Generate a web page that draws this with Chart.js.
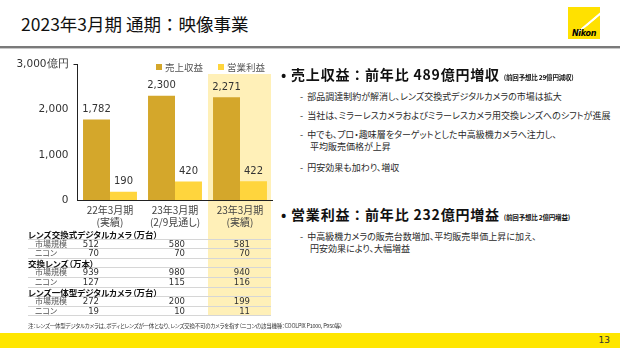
<!DOCTYPE html>
<html>
<head>
<meta charset="utf-8">
<script src="https://cdn.jsdelivr.net/npm/chart.js@4"></script>
<style>
  body { margin:0; width:620px; height:348px; background:#fff; position:relative; overflow:hidden;
         font-family:"Noto Sans CJK JP", sans-serif; font-feature-settings:"palt"; color:#222; }
  .abs { position:absolute; white-space:nowrap; }
  #title { left:21px; top:12px; font-size:17.5px; line-height:24px; color:#111; font-feature-settings:normal; }
  #rule { left:0; top:46px; width:620px; height:2px; background:#7a7a7a; }
  #rule2 { left:0; top:48px; width:620px; height:1px; background:#c8c8c8; }
  #logo { left:568px; top:7px; width:32px; height:32px; background:#ffe100; overflow:hidden; }
  #logo .streak { position:absolute; height:1px; background:rgba(255,255,255,0.85); width:40px; transform:rotate(-40deg); }
  #logo .name { position:absolute; left:0; right:0; bottom:1px; text-align:center; font-family:"DejaVu Sans"; font-weight:bold; font-style:italic; font-size:8px; color:#000; letter-spacing:-0.3px; }
  #band { left:208px; top:74px; width:63px; height:242px; background:#fff0b8; }
  #chartBox { left:0; top:50px; width:280px; height:190px; }
  .leg { font-size:9.5px; color:#555; top:60px; }
  .leg i { display:inline-block; width:6px; height:6px; margin-right:3px; vertical-align:1px; }
  .trow { position:absolute; left:28px; width:243px; height:9.6px; border-bottom:1px solid #d6d6d6; box-sizing:border-box; }
  .trow span { position:absolute; top:-2px; font-size:8px; line-height:12px; }
  .thead span { font-weight:bold; color:#111; font-size:8.5px; }
  .tsub span { color:#555; }
  .tsub span.num { font-family:"DejaVu Sans"; font-size:8.5px; color:#333; text-align:right; width:30px; }
  .h1 { font-size:14px; font-weight:bold; color:#111; font-feature-settings:normal; letter-spacing:0.8px; }
  .h1 small { font-size:6.5px; font-weight:bold; font-feature-settings:"palt"; letter-spacing:-0.2px; }
  .li { font-size:9px; color:#2a2a2a; }
  #foot { left:28px; top:322px; font-size:5.5px; letter-spacing:-0.25px; color:#333; }
  #bar { left:0; top:333px; width:620px; height:15px; background:#ffe600; }
  #page { right:10px; top:335px; font-size:9px; color:#333; font-family:"DejaVu Sans"; }
</style>
</head>
<body>
<div id="title" class="abs">2023年3月期 通期：映像事業</div>
<div id="rule" class="abs"></div>
<div id="rule2" class="abs"></div>
<div id="logo" class="abs"></div>

<div id="band" class="abs"></div>
<div id="chartBox" class="abs"><canvas id="chart" width="280" height="190"></canvas></div>
<div class="abs leg" style="left:156px"><i style="background:#d4a72b"></i>売上収益</div>
<div class="abs leg" style="left:218px"><i style="background:#ffd53d"></i>営業利益</div>
<div id="table"></div>

<div class="abs h1" style="left:281px; top:64px">• 売上収益：前年比 489億円増収 <small>(前回予想比 29億円減収)</small></div>
<div class="abs li" style="left:300px; top:90px">-&nbsp;&nbsp;部品調達制約が解消し、レンズ交換式デジタルカメラの市場は拡大</div>
<div class="abs li" style="left:300px; top:109px">-&nbsp;&nbsp;当社は、ミラーレスカメラおよびミラーレスカメラ用交換レンズへのシフトが進展</div>
<div class="abs li" style="left:300px; top:128px">-&nbsp;&nbsp;中でも、プロ・趣味層をターゲットとした中高級機カメラへ注力し、</div>
<div class="abs li" style="left:310px; top:140px">平均販売価格が上昇</div>
<div class="abs li" style="left:300px; top:161px">-&nbsp;&nbsp;円安効果も加わり、増収</div>

<div class="abs h1" style="left:281px; top:204px">• 営業利益：前年比 232億円増益 <small>(前回予想比 2億円増益)</small></div>
<div class="abs li" style="left:300px; top:230px">-&nbsp;&nbsp;中高級機カメラの販売台数増加、平均販売単価上昇に加え、</div>
<div class="abs li" style="left:310px; top:242px">円安効果により、大幅増益</div>

<div id="foot" class="abs">注：レンズ一体型デジタルカメラは、ボディとレンズが一体となり、レンズ交換不可のカメラを指す（ニコンの該当機種：COOLPIX P1000, P950等）</div>
<div id="bar" class="abs"></div>
<div id="page" class="abs">13</div>

<script>
var categories = [['22年3月期', '(実績)'], ['23年3月期', '(2/9見通し)'], ['23年3月期', '(実績)']];
var revenue = [1782, 2300, 2271];
var operatingProfit = [190, 420, 422];
var yTicks = [0, 1000, 2000, 3000];

var tableGroups = ['レンズ交換式デジタルカメラ（万台）', '交換レンズ（万本）', 'レンズ一体型デジタルカメラ（万台）'];
var rowLabels = ['市場規模', 'ニコン'];
var marketSize = [[512, 580, 581], [939, 980, 940], [272, 200, 199]];
var nikonUnits = [[70, 70, 70], [127, 115, 116], [19, 10, 11]];

// logo streaks
var logo = document.getElementById('logo');
for (var s = 0; s < 7; s++) {
  var st = document.createElement('div');
  st.className = 'streak';
  st.style.left = (2 + s * 2) + 'px';
  st.style.top = (14 - s * 1.5) + 'px';
  logo.appendChild(st);
}
var nm = document.createElement('div');
nm.className = 'name';
nm.textContent = 'Nikon';
logo.appendChild(nm);

// table under the chart
var numRight = [99, 185, 250];
var tbl = document.getElementById('table');
var rowTop = 230;
function addRow(cls, label, labelX, nums) {
  var r = document.createElement('div');
  r.className = 'trow ' + cls;
  r.style.top = rowTop + 'px';
  var l = document.createElement('span');
  l.textContent = label;
  l.style.left = labelX + 'px';
  r.appendChild(l);
  if (nums) {
    nums.forEach(function (n, i) {
      var sp = document.createElement('span');
      sp.className = 'num';
      sp.textContent = n;
      sp.style.left = (numRight[i] - 28 - 30) + 'px';
      r.appendChild(sp);
    });
  }
  tbl.appendChild(r);
  rowTop += 9.6;
}
tableGroups.forEach(function (g, i) {
  addRow('thead', g, 0, null);
  addRow('tsub', rowLabels[0], 7, marketSize[i]);
  addRow('tsub', rowLabels[1], 7, nikonUnits[i]);
});

var valueLabels = {
  id: 'valueLabels',
  afterDatasetsDraw: function (chart) {
    var ctx = chart.ctx;
    ctx.save();
    ctx.font = '10px "DejaVu Sans"';
    ctx.fillStyle = '#333';
    ctx.textAlign = 'center';
    ctx.textBaseline = 'middle';
    chart.data.datasets.forEach(function (ds, di) {
      chart.getDatasetMeta(di).data.forEach(function (el, i) {
        ctx.fillText(ds.data[i].toLocaleString('en-US'), el.x, el.y - 10);
      });
    });
    ctx.restore();
  }
};

var config = {
  type: 'bar',
  data: {
    labels: categories,
    datasets: [{
      label: '売上収益',
      data: revenue,
      backgroundColor: '#d4a72b'
    }, {
      label: '営業利益',
      data: operatingProfit,
      backgroundColor: '#ffd53d'
    }]
  },
  options: {
    responsive: false,
    animation: false,
    layout: { padding: { left: 0, right: 7.5, top: 14, bottom: 0 } },
    plugins: { legend: { display: false }, tooltip: { enabled: false } },
    datasets: { bar: { categoryPercentage: 0.83, barPercentage: 1.0 } },
    scales: {
      x: {
        grid: { display: false, drawTicks: false, tickLength: 0 },
        border: { color: '#222', width: 1 },
        ticks: { color: '#444', font: { family: 'Noto Sans CJK JP', size: 10, lineHeight: 1.15 }, padding: 4, maxRotation: 0 },
        afterFit: function (scale) { scale.height = 39.5; }
      },
      y: {
        min: 0,
        max: 3000,
        afterBuildTicks: function (scale) { scale.ticks = yTicks.map(function (v) { return { value: v }; }); },
        grid: {
          drawOnChartArea: false,
          tickLength: 4,
          color: function (c) { return c.tick && c.tick.value === 3000 ? '#222' : 'rgba(0,0,0,0)'; }
        },
        border: { color: '#222', width: 1 },
        ticks: {
          color: '#333',
          padding: 5,
          font: { family: 'DejaVu Sans', size: 10.5 },
          callback: function (v) { return v === 3000 ? '3,000億円' : v.toLocaleString('en-US'); }
        },
        afterFit: function (scale) { scale.width = 77.5; }
      }
    }
  },
  plugins: [valueLabels]
};

window.onload = function () {
  var ctx = document.getElementById('chart').getContext('2d');
  window.myChart = new Chart(ctx, config);
};
</script>
</body>
</html>
